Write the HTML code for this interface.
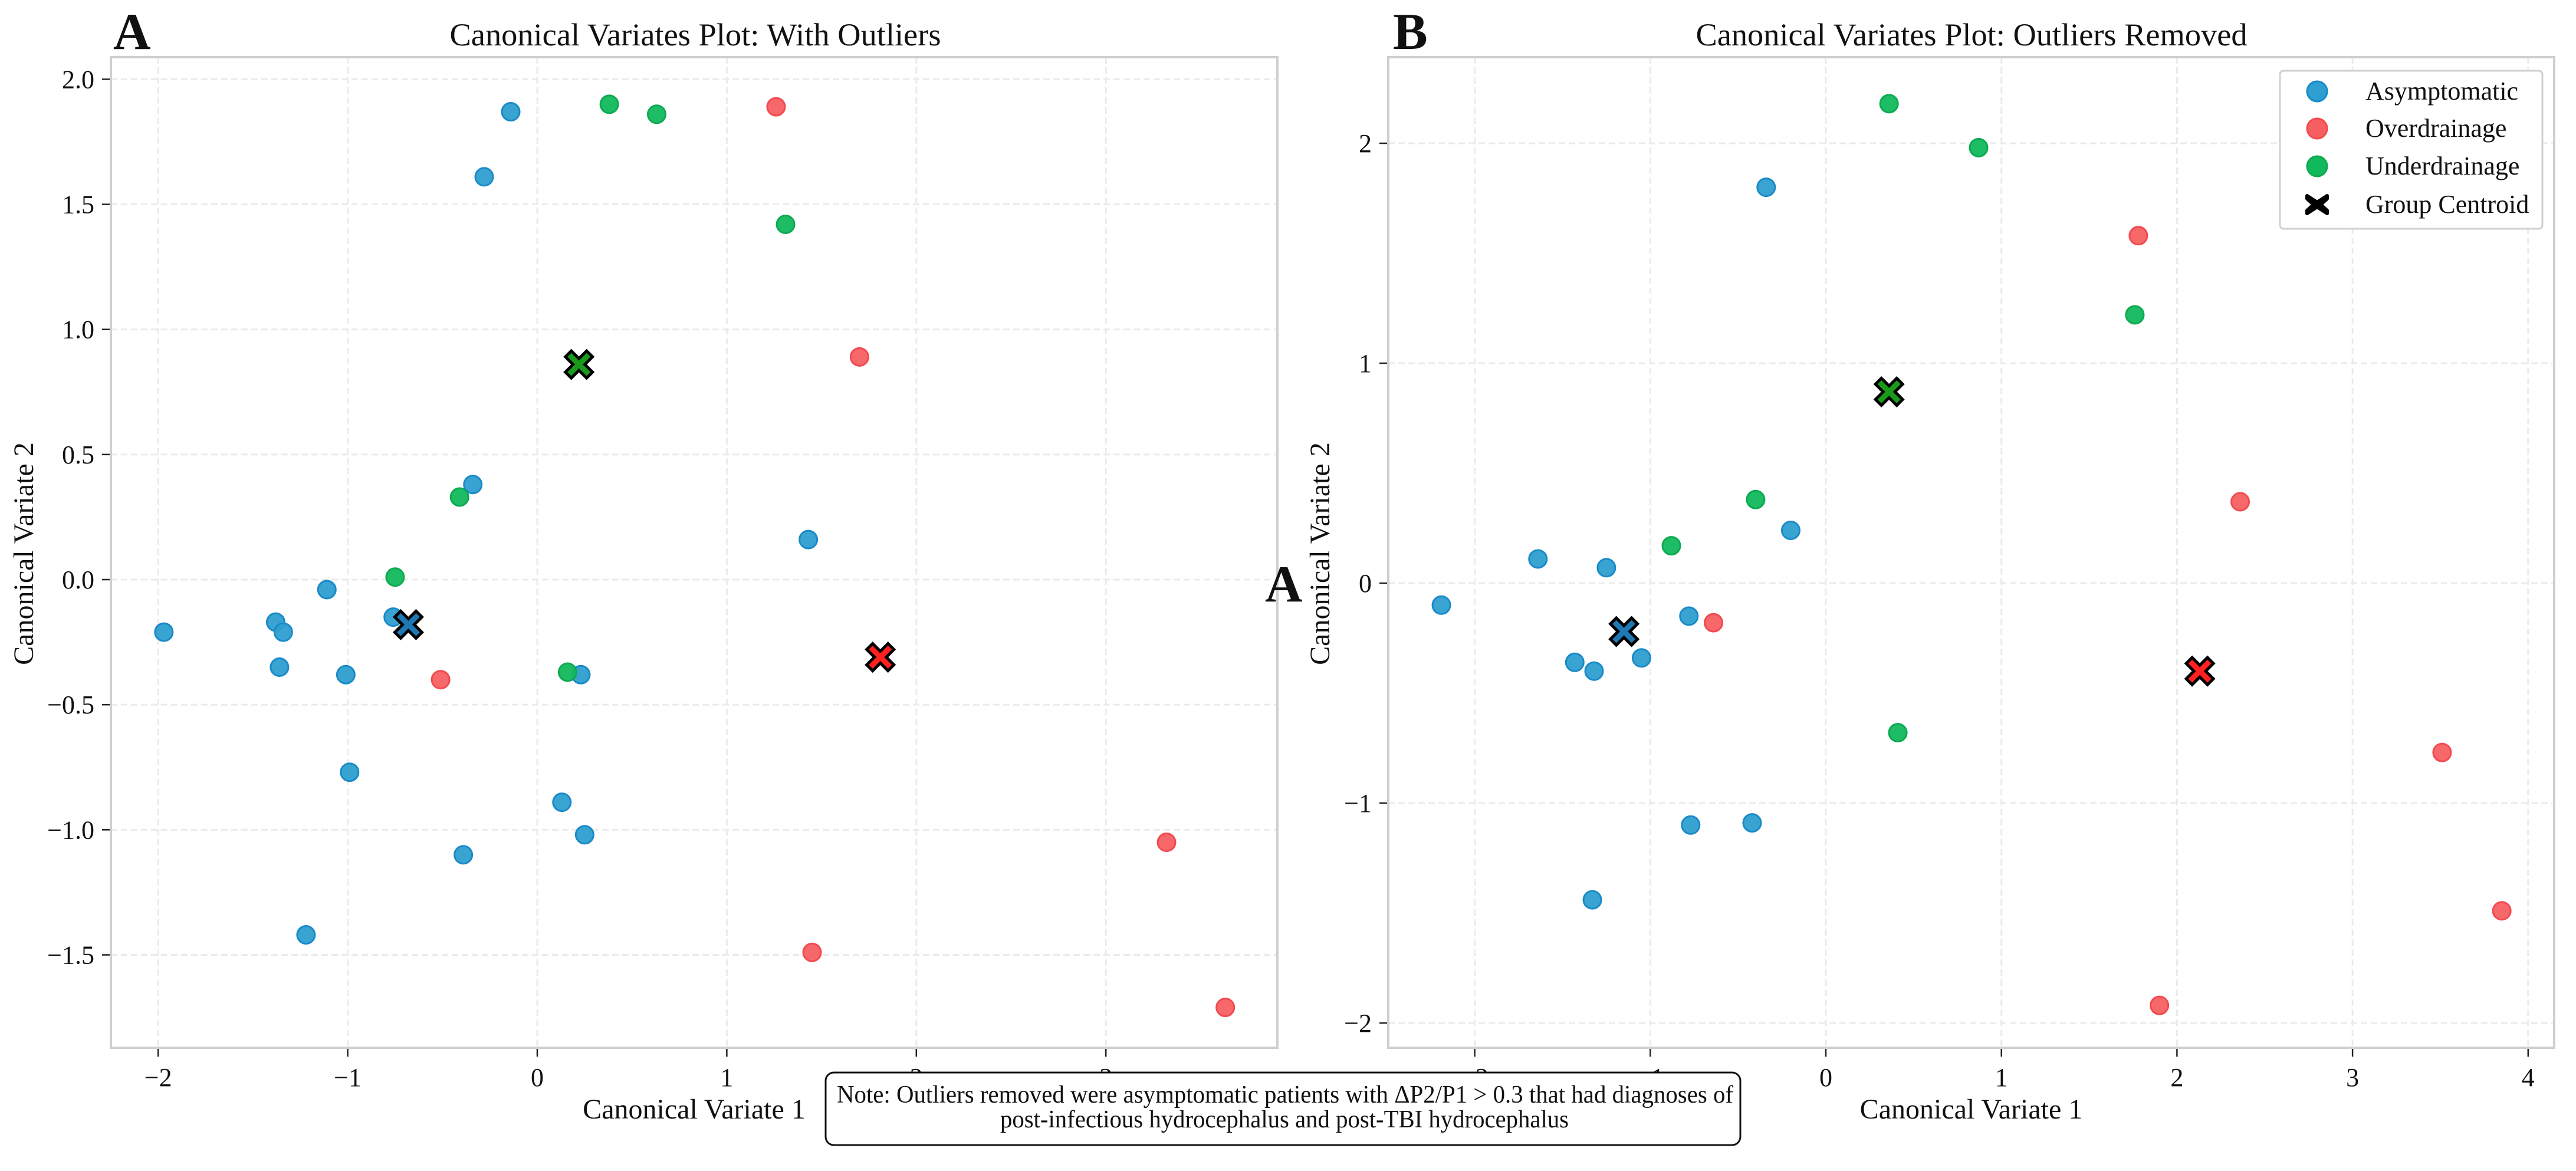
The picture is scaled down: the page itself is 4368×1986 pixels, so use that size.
<!DOCTYPE html>
<html><head><meta charset="utf-8"><style>
html,body{margin:0;padding:0;background:#fff}
svg{display:block}
text{font-family:"Liberation Serif",serif;fill:#111}
</style></head><body>
<svg id="fig" width="4368" height="1986" viewBox="0 0 4368 1986" xmlns="http://www.w3.org/2000/svg">
<g id="panelA"></g>
<g id="panelB"></g>
<text x="192" y="83" font-size="88" font-weight="bold">A</text>
<text x="2362" y="83" font-size="88" font-weight="bold">B</text>
<text x="2145" y="1020" font-size="88" font-weight="bold">A</text>
<text x="1179" y="77" font-size="54" text-anchor="middle" textLength="833" lengthAdjust="spacingAndGlyphs">Canonical Variates Plot: With Outliers</text>
<text x="3343" y="77" font-size="54" text-anchor="middle" textLength="935" lengthAdjust="spacingAndGlyphs">Canonical Variates Plot: Outliers Removed</text>
<g>
<rect x="3866" y="120" width="445" height="268" rx="6" fill="#fff" stroke="#d0d0d0" stroke-width="3"/>
<circle cx="3929" cy="155" r="17" fill="#2e9fd0" stroke="#1a8ac8" stroke-width="3"/>
<text x="4011" y="169" font-size="44">Asymptomatic</text>
<circle cx="3929" cy="218" r="17" fill="#f76063" stroke="#f24a50" stroke-width="3"/>
<text x="4011" y="232" font-size="44">Overdrainage</text>
<circle cx="3929" cy="282" r="17" fill="#12b85c" stroke="#0daa52" stroke-width="3"/>
<text x="4011" y="296" font-size="44">Underdrainage</text>
<path d="M3912 332 L3929 343 L3946 332 L3946 337 L3935 347 L3946 357 L3946 362 L3929 351 L3912 362 L3912 357 L3923 347 L3912 337 Z" fill="#000" stroke="#000" stroke-width="6" stroke-linejoin="round"/>
<text x="4011" y="361" font-size="44">Group Centroid</text>
</g>
<g>
<rect x="1400" y="1819" width="1551" height="123" rx="14" fill="#fff" stroke="#111" stroke-width="3"/>
<text x="2179" y="1870" font-size="42" text-anchor="middle" textLength="1520" lengthAdjust="spacingAndGlyphs">Note: Outliers removed were asymptomatic patients with ΔP2/P1 &gt; 0.3 that had diagnoses of</text>
<text x="2178" y="1912" font-size="42" text-anchor="middle" textLength="964" lengthAdjust="spacingAndGlyphs">post-infectious hydrocephalus and post-TBI hydrocephalus</text>
</g>
</svg>
<script>
// Panel A data (with outliers)
const aAsymX = [-1.97,-0.14,-0.28,-0.34,1.43,-1.11,-1.38,-1.34,-1.36,-1.01,-0.76,0.23,-0.99,0.13,0.25,-0.39,-1.22];
const aAsymY = [-0.21,1.87,1.61,0.38,0.16,-0.04,-0.17,-0.21,-0.35,-0.38,-0.15,-0.38,-0.77,-0.89,-1.02,-1.10,-1.42];
const aOverX = [1.26,1.70,-0.51,3.32,1.45,3.63];
const aOverY = [1.89,0.89,-0.40,-1.05,-1.49,-1.71];
const aUnderX = [0.38,0.63,1.31,-0.41,-0.75,0.16];
const aUnderY = [1.90,1.86,1.42,0.33,0.01,-0.37];
const aCentX = [-0.68,1.81,0.22];
const aCentY = [-0.18,-0.31,0.86];
const aXTicks = [-2,-1,0,1,2,3];
const aXTickLabels = ["−2","−1","0","1","2","3"];
const aYTicks = [-1.5,-1.0,-0.5,0.0,0.5,1.0,1.5,2.0];
const aYTickLabels = ["−1.5","−1.0","−0.5","0.0","0.5","1.0","1.5","2.0"];
// Panel B data (outliers removed)
const bAsymX = [-2.19,-0.34,-0.20,-1.64,-1.25,-0.78,-1.43,-1.32,-1.05,-0.77,-0.42,-1.33];
const bAsymY = [-0.10,1.80,0.24,0.11,0.07,-0.15,-0.36,-0.40,-0.34,-1.10,-1.09,-1.44];
const bOverX = [1.78,2.36,-0.64,3.51,3.85,1.90];
const bOverY = [1.58,0.37,-0.18,-0.77,-1.49,-1.92];
const bUnderX = [0.36,0.87,1.76,-0.40,-0.88,0.41];
const bUnderY = [2.18,1.98,1.22,0.38,0.17,-0.68];
const bCentX = [-1.15,2.13,0.36];
const bCentY = [-0.22,-0.40,0.87];
const bXTicks = [-2,-1,0,1,2,3,4];
const bXTickLabels = ["−2","−1","0","1","2","3","4"];
const bYTicks = [-2,-1,0,1,2];
const bYTickLabels = ["−2","−1","0","1","2"];

const NS = "http://www.w3.org/2000/svg";
const COLORS = {asym:["#2e9fd0","#1a8ac8"],over:["#f76063","#f24a50"],under:["#12b85c","#0daa52"]};
const CENT = ["#1f77b4","#ff2020","#1a9a1a"];
function mk(parent, tag, attrs){const e=document.createElementNS(NS,tag);for(const k in attrs)e.setAttribute(k,attrs[k]);parent.appendChild(e);return e;}

function panel(g, cfg){
  const sx = v => cfg.x0 + v*cfg.kx;
  const sy = v => cfg.y0 - v*cfg.ky;
  const L=cfg.left,R=cfg.right,T=97,B=1777;
  const grid = mk(g,'g',{});
  
  
  cfg.xt.forEach((t,i)=>{
    const X=sx(t);
    const l=mk(grid,'line',{x1:X,x2:X,y1:T,y2:B,stroke:"#ebebeb","stroke-width":3,"stroke-dasharray":"11 6"});
    
    
    const tk=mk(g,'line',{x1:X,x2:X,y1:B,y2:B+15,stroke:"#222","stroke-width":2.5});
    
    
    const tx=mk(g,'text',{x:X,y:1842,"font-size":44,"text-anchor":"middle"});
    tx.textContent=cfg.xl[i];
    
    
  });
  cfg.yt.forEach((t,i)=>{
    const Y=sy(t);
    const l=mk(grid,'line',{x1:L,x2:R,y1:Y,y2:Y,stroke:"#ebebeb","stroke-width":3,"stroke-dasharray":"11 6"});
    
    
    const tk=mk(g,'line',{x1:L-15,x2:L,y1:Y,y2:Y,stroke:"#222","stroke-width":2.5});
    
    
    const tx=mk(g,'text',{x:L-28,y:Y+15,"font-size":44,"text-anchor":"end"});
    tx.textContent=cfg.yl[i];
    
    
  });
  const fr=mk(g,'rect',{x:L,y:T,width:R-L,height:B-T,fill:"none",stroke:"#cfcfcf","stroke-width":4});
  
  
  const series=[["asym",cfg.asym],["over",cfg.over],["under",cfg.under]];
  series.forEach(([k,[xs,ys]])=>{
    xs.forEach((v,i)=>{
      const c=mk(g,'circle',{cx:sx(v),cy:sy(ys[i]),r:15,fill:COLORS[k][0],stroke:COLORS[k][1],"stroke-width":3,"fill-opacity":0.95});
      
      
    });
  });
  cfg.cx.forEach((v,i)=>{
    const X=sx(v),Y=sy(cfg.cy[i]),s=23,w=10;
    const d=`M${X-s} ${Y-s+w} L${X-s+w} ${Y-s} L${X} ${Y-w} L${X+s-w} ${Y-s} L${X+s} ${Y-s+w} L${X+w} ${Y} L${X+s} ${Y+s-w} L${X+s-w} ${Y+s} L${X} ${Y+w} L${X-s+w} ${Y+s} L${X-s} ${Y+s-w} L${X-w} ${Y} Z`;
    const p=mk(g,'path',{d:d,fill:CENT[i],stroke:"#000","stroke-width":5,"stroke-linejoin":"miter"});
    
    
  });
  const xlab=mk(g,'text',{x:(L+R)/2,y:1897,"font-size":48,"text-anchor":"middle"});
  xlab.textContent="Canonical Variate 1";
  
  
  const ylab=mk(g,'text',{x:0,y:0,"font-size":48,"text-anchor":"middle",transform:`translate(${cfg.ylx},939) rotate(-90)`});
  ylab.textContent="Canonical Variate 2";
  
  
}
panel(document.getElementById('panelA'),{p:'panel-a',x0:911,kx:321.4,y0:983,ky:424.3,left:188,right:2166,
  xt:aXTicks,xl:aXTickLabels,yt:aYTicks,yl:aYTickLabels,asym:[aAsymX,aAsymY],over:[aOverX,aOverY],under:[aUnderX,aUnderY],cx:aCentX,cy:aCentY,ylx:56});
panel(document.getElementById('panelB'),{p:'panel-b',x0:3096,kx:297.7,y0:989,ky:373,left:2354,right:4331,
  xt:bXTicks,xl:bXTickLabels,yt:bYTicks,yl:bYTickLabels,asym:[bAsymX,bAsymY],over:[bOverX,bOverY],under:[bUnderX,bUnderY],cx:bCentX,cy:bCentY,ylx:2254});
</script>
</body></html>
